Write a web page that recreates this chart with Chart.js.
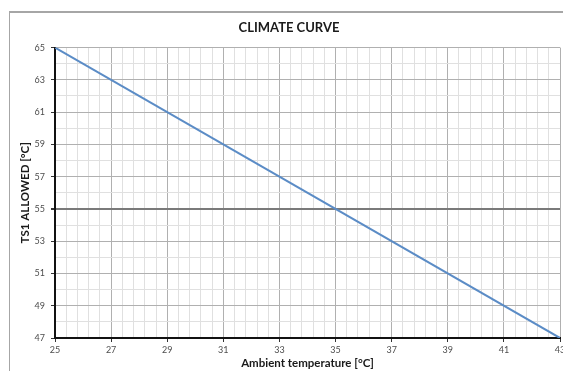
<!DOCTYPE html>
<html>
<head>
<meta charset="utf-8">
<script src="https://cdn.jsdelivr.net/npm/chart.js@4"></script>
<style>
    html, body { margin: 0; padding: 0; overflow: hidden; background: #fff; }
    .frame { position: absolute; left: 9px; top: 11px; width: 700px; height: 500px;
             border-left: 1px solid #a6a6a6; border-top: 2px solid #a6a6a6; }
    #climateChart { position: absolute; left: 0; top: 0; }
</style>
</head>
<body>
<div class="frame"></div>
<canvas id="climateChart" width="600" height="371"></canvas>
<script>
const ambientTemp = [25, 43]
const ts1Allowed = [65, 47]
const xTickLabels = [25, 27, 29, 31, 33, 35, 37, 39, 41, 43]
const yTickLabels = [47, 49, 51, 53, 55, 57, 59, 61, 63, 65]

const near = (v, list) => list.some(t => Math.abs(t - v) < 1e-6)

const init = () => {
    const ctx = document.getElementById('climateChart')

    const points = ambientTemp.map((x, i) => ({x, y: ts1Allowed[i]}))

    new Chart(ctx, {
        type: 'scatter',
        data: {
            datasets: [{
                label: 'TS1',
                data: points,
                showLine: true,
                borderColor: '#5b8cc6',
                borderWidth: 2,
                pointRadius: 0,
                pointHoverRadius: 0,
            }]
        },
        options: {
            responsive: false,
            animation: false,
            events: [],
            layout: {padding: {left: 18, right: 40, top: 0, bottom: 0}},
            plugins: {
                legend: {display: false},
                tooltip: {enabled: false},
                title: {
                    display: true,
                    text: 'CLIMATE CURVE',
                    color: '#1a1a1a',
                    font: {family: 'Lato', size: 13, weight: 'bold'},
                    padding: {top: 20, bottom: 12},
                },
            },
            scales: {
                x: {
                    type: 'linear',
                    min: 25,
                    max: 43,
                    afterFit: (scale) => { scale.height = 33 },
                    ticks: {
                        stepSize: 0.4,
                        autoSkip: false,
                        maxRotation: 0,
                        padding: 3,
                        color: '#4d4d4d',
                        font: {family: 'Lato', size: 9},
                        callback: (v) => near(v, xTickLabels) ? String(Math.round(v)) : '',
                    },
                    grid: {
                        color: (c) => near(c.tick.value, xTickLabels) ? '#b0b0b0' : '#e0e0e0',
                        tickColor: (c) => near(c.tick.value, xTickLabels) ? '#333' : 'transparent',
                        tickLength: 4,
                    },
                    border: {color: '#111', width: 2},
                    title: {
                        display: true,
                        text: 'Ambient temperature [°C]',
                        color: '#1a1a1a',
                        font: {family: 'Lato', size: 11.5, weight: 'bold'},
                        padding: {top: 0, bottom: 1},
                    },
                },
                y: {
                    min: 47,
                    max: 65,
                    afterFit: (scale) => { scale.width = 37 },
                    ticks: {
                        stepSize: 1,
                        autoSkip: false,
                        padding: 6,
                        color: '#4d4d4d',
                        font: {family: 'Lato', size: 9},
                        callback: (v) => near(v, yTickLabels) ? String(v) : '',
                    },
                    grid: {
                        color: (c) => c.tick.value === 55 ? '#7a7a7a'
                            : near(c.tick.value, yTickLabels) ? '#b0b0b0' : '#e0e0e0',
                        lineWidth: (c) => c.tick.value === 55 ? 2 : 1,
                        tickColor: (c) => near(c.tick.value, yTickLabels) ? '#333' : 'transparent',
                        tickLength: 4,
                    },
                    border: {color: '#111', width: 2},
                    title: {
                        display: true,
                        text: 'TS1 ALLOWED [°C]',
                        color: '#1a1a1a',
                        font: {family: 'Lato', size: 11.5, weight: 'bold'},
                        padding: {top: 0, bottom: 1},
                    },
                },
            },
        },
    })
}

document.addEventListener('DOMContentLoaded', init)
</script>
</body>
</html>
